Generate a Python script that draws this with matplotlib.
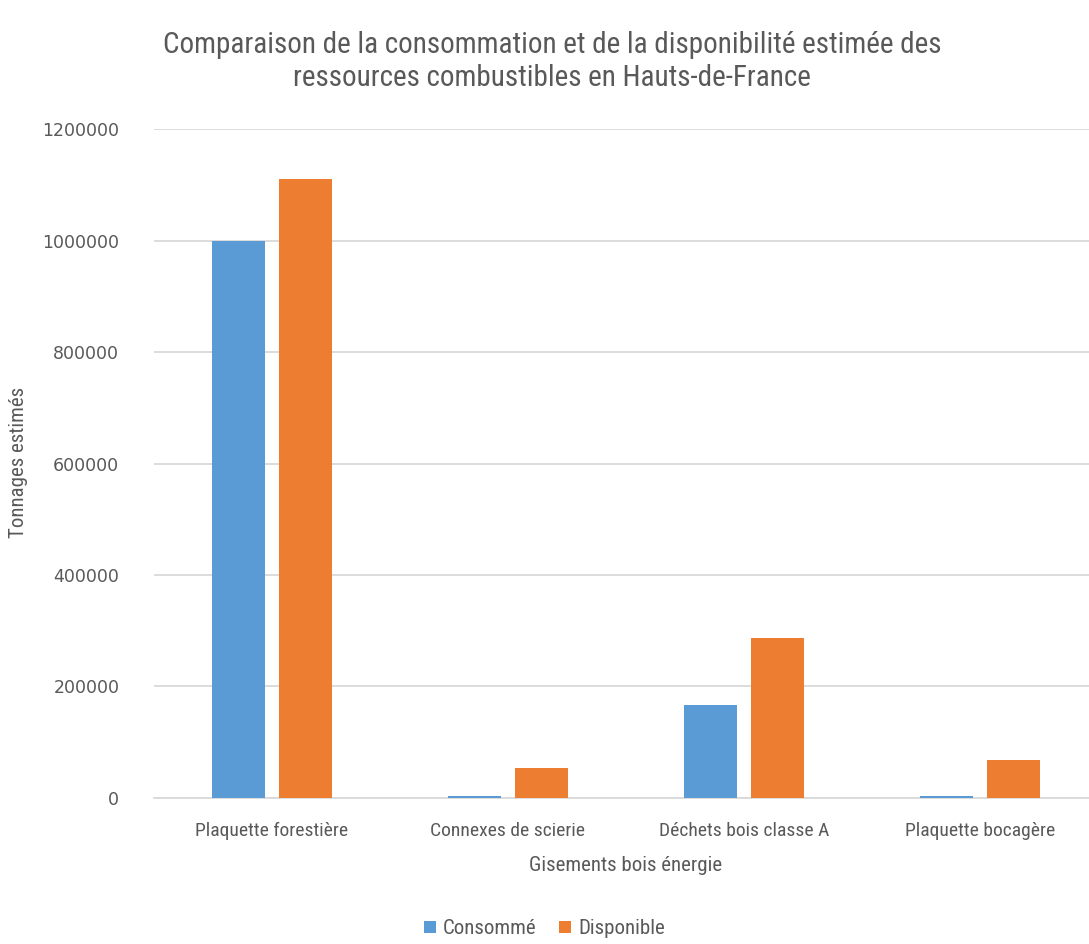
import matplotlib
matplotlib.use('Agg')
import matplotlib.pyplot as plt
import numpy as np
from matplotlib import font_manager

# data
categories = ['Plaquette forestière', 'Connexes de scierie', 'Déchets bois classe A', 'Plaquette bocagère']
consomme = [1000000, 4000, 166000, 4000]
disponible = [1110000, 53000, 287000, 69000]
series_names = ['Consommé', 'Disponible']
yticks = [0, 200000, 400000, 600000, 800000, 1000000, 1200000]

BLUE = '#5B9BD5'
ORANGE = '#ED7D31'
GRAY = '#595959'
GRID = '#D9D9D9'

# pick a narrow font if one is installed
installed = {f.name for f in font_manager.fontManager.ttflist}
narrow = 'DejaVu Sans'
for name in ['Roboto Condensed', 'Liberation Sans Narrow', 'Open Sans Condensed', 'DejaVu Sans']:
    if name in installed:
        narrow = name
        break
narrow_stretch = 'condensed' if narrow == 'DejaVu Sans' else 'normal'

fig = plt.figure(figsize=(10.89, 9.44), dpi=100)
ax = fig.add_axes([0.1414, 0.1547, 0.8668, 0.7086])

x = np.arange(len(categories))
width = 0.2246
offset = 0.142
ax.bar(x - offset, consomme, width, color=BLUE, label=series_names[0], zorder=3)
ax.bar(x + offset, disponible, width, color=ORANGE, label=series_names[1], zorder=3)

ax.set_xlim(-0.5, len(categories) - 0.5)
ax.set_ylim(0, 1200000)
ax.set_yticks(yticks)
ax.set_yticklabels([str(v) for v in yticks])
ax.set_xticks(x)
ax.set_xticklabels(categories, family=narrow, stretch=narrow_stretch, fontsize=14)

ax.yaxis.grid(True, color=GRID, linewidth=1.3, zorder=0)
for side in ['top', 'right', 'left']:
    ax.spines[side].set_visible(False)
ax.spines['bottom'].set_color(GRID)
ax.spines['bottom'].set_linewidth(1.3)
ax.tick_params(axis='both', length=0, colors=GRAY)
ax.tick_params(axis='y', labelsize=12.5, pad=25)
ax.tick_params(axis='x', pad=17)

ax.set_xlabel('Gisements bois énergie', family=narrow, stretch=narrow_stretch,
              fontsize=15, color=GRAY, labelpad=12)
ax.set_ylabel('Tonnages estimés', family=narrow, stretch=narrow_stretch,
              fontsize=15, color=GRAY)
ax.yaxis.set_label_coords(-0.133, 0.502)

fig.text(0.507, 0.952, 'Comparaison de la consommation et de la disponibilité estimée des',
         ha='center', va='center', family=narrow, stretch=narrow_stretch, fontsize=21, color=GRAY)
fig.text(0.507, 0.917, 'ressources combustibles en Hauts-de-France',
         ha='center', va='center', family=narrow, stretch=narrow_stretch, fontsize=21, color=GRAY)

leg = fig.legend(loc='center', bbox_to_anchor=(0.5, 0.016), ncol=2, frameon=False,
                 prop={'family': narrow, 'stretch': narrow_stretch, 'size': 15},
                 handlelength=0.55, handleheight=0.55, handletextpad=0.35, columnspacing=1.1)
for t in leg.get_texts():
    t.set_color(GRAY)

fig.savefig('out.png', dpi=100)
